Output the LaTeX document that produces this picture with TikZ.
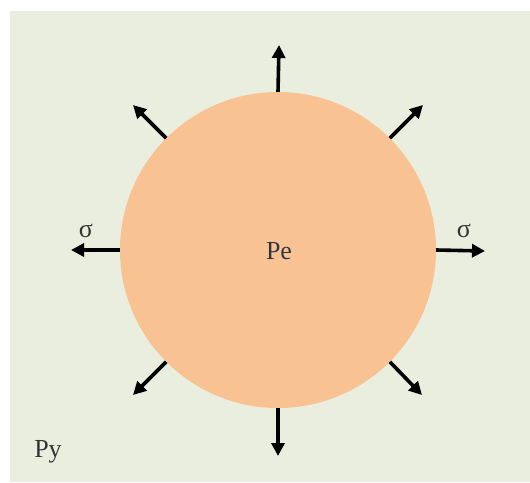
\documentclass[tikz,border=0pt]{standalone}
\usepackage{fontspec}
\setmainfont{Liberation Serif}
\usepackage[outline]{contour}
\contourlength{1.6pt}
\usetikzlibrary{arrows.meta}
\definecolor{bgc}{HTML}{EAEEDF}
\definecolor{pec}{HTML}{F9C292}
\definecolor{txc}{HTML}{333333}
\tikzset{
  stress/.style={line width=3.6pt,-{Triangle[length=13pt,width=13pt]}},
  lbl/.style={font=\fontsize{26}{30}\selectfont,text=txc,inner sep=0pt},
}
\begin{document}
\begin{tikzpicture}[x=1pt,y=-1pt]
\useasboundingbox (0,0) rectangle (530,482);
\fill[bgc] (10,11) rectangle (530,482);
\node[circle,fill=pec,minimum size=316pt,inner sep=0pt] (pe) at (278,250) {};
\node[lbl,anchor=base] (pel) at (279,259) {\contour{white}{Pe}};
\node[lbl,anchor=base] (py) at (48,457) {\contour{white}{Py}};
\node[lbl,anchor=base] (s1) at (86,237) {σ};
\node[lbl,anchor=base] (s2) at (464,237) {σ};
\coordinate (t0) at (279,45);
\coordinate (t1) at (423,105);
\coordinate (t2) at (485,251);
\coordinate (t3) at (422,395);
\coordinate (t4) at (278,456);
\coordinate (t5) at (133,395);
\coordinate (t6) at (71,250);
\coordinate (t7) at (133,105);
\draw[stress] (pe.north) -- (t0);
\draw[stress] (pe.north east) -- (t1);
\draw[stress] (pe.east) -- (t2);
\draw[stress] (pe.south east) -- (t3);
\draw[stress] (pe.south) -- (t4);
\draw[stress] (pe.south west) -- (t5);
\draw[stress] (pe.west) -- (t6);
\draw[stress] (pe.north west) -- (t7);
\end{tikzpicture}
\end{document}
